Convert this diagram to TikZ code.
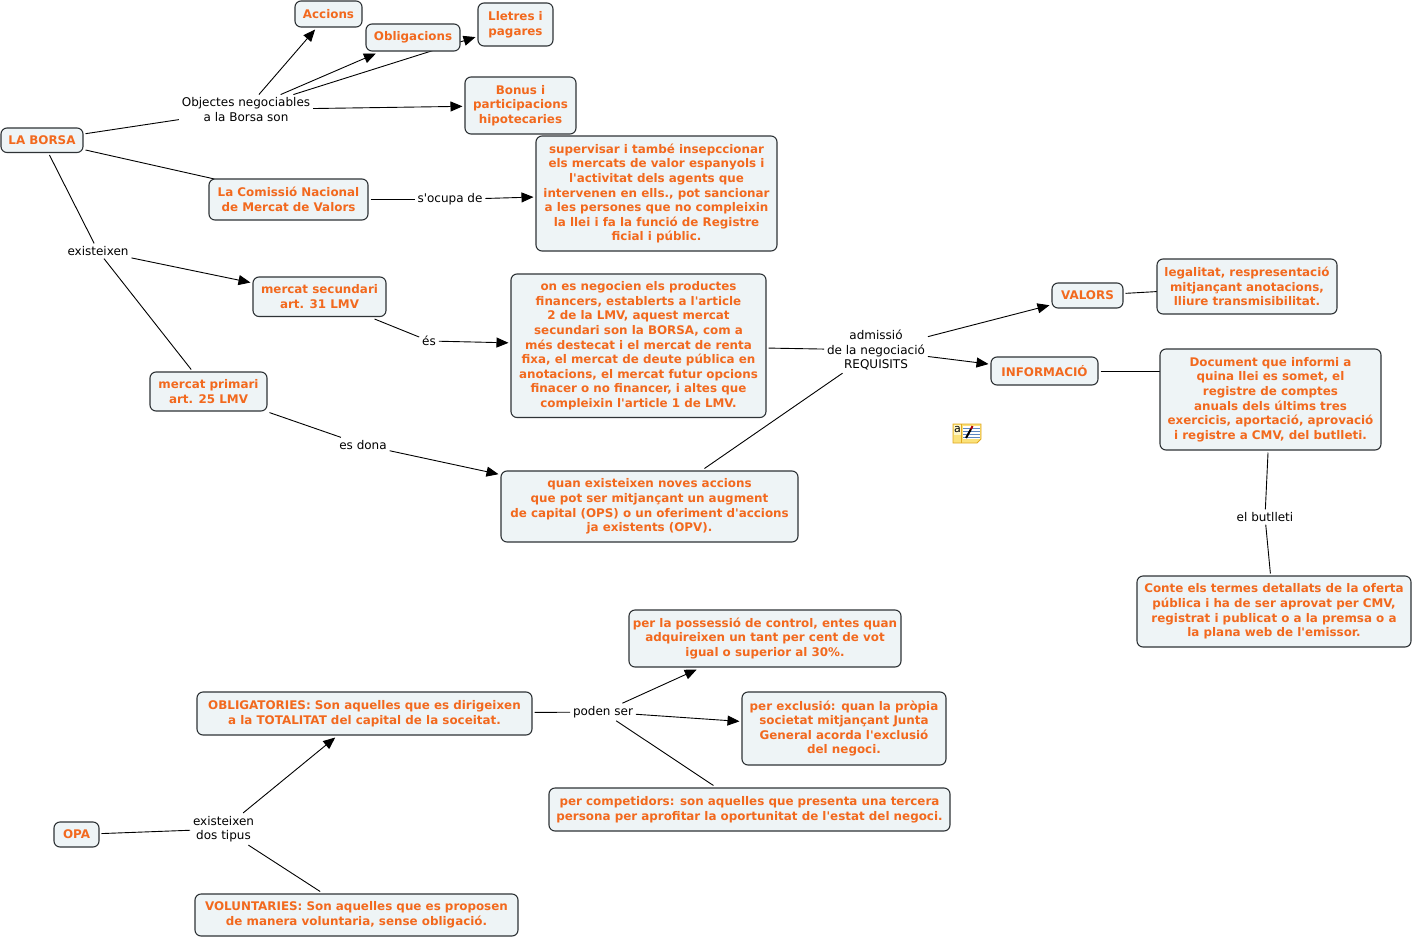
\documentclass[tikz,border=0pt]{standalone}
\usepackage{fontspec}
\setmainfont{DejaVu Sans}
\newfontfamily\dvfont{DejaVu Sans}
\usetikzlibrary{arrows.meta,backgrounds}
\definecolor{orangetxt}{HTML}{F2691E}
\definecolor{boxfill}{HTML}{EEF4F6}
\definecolor{boxline}{HTML}{2E3336}
\tikzset{
  concept/.style={draw=boxline,fill=boxfill,line width=1.1pt,rounded corners=6pt,inner sep=0pt,outer sep=2.5pt,align=center,text=orangetxt,font=\dvfont\fontsize{11.9}{14.6}\selectfont\bfseries},
  linkphrase/.style={inner sep=1.5pt,outer sep=1.5pt,align=center,text=black,font=\dvfont\fontsize{12}{14.6}\selectfont},
  plainline/.style={draw=black,line width=0.9pt},
  toborder/.style={shorten >=-2.5pt},
  arrowline/.style={draw=black,line width=0.9pt,-{Triangle[length=12pt,width=10pt]}}
}
\newcommand{\cpt}[6]{\node[concept,minimum width={#4-#2},minimum height={#5-#3}] (#1) at ({(#2+#4)/2},{(#3+#5)/2}) {#6};}
\begin{document}
\begin{tikzpicture}[x=1pt,y=-1pt]
\useasboundingbox (0,0) rectangle (1414,937);
\cpt{accions}{295}{1}{362}{27}{Accions}
\cpt{oblig}{366}{24}{460}{51}{Obligacions}
\cpt{lletres}{478}{3}{553}{46}{Lletres i\\pagares}
\cpt{bonus}{465}{77}{576}{134}{Bonus i\\participacions\\hipotecaries}
\cpt{borsa}{1}{128}{83}{152.5}{LA BORSA}
\cpt{cnmv}{209}{179}{368}{220}{La Comissió Nacional\\de Mercat de Valors}
\cpt{superv}{536}{136}{777}{251}{supervisar i també insepccionar\\els mercats de valor espanyols i\\l'activitat dels agents que\\intervenen en ells., pot sancionar\\a les persones que no compleixin\\la llei i fa la funció de Registre\\ficial i públic.}
\cpt{secund}{253}{277}{386}{316.5}{mercat secundari\\art. 31 LMV}
\cpt{onesn}{511}{274}{766}{417.5}{on es negocien els productes\\financers, establerts a l'article\\2 de la LMV, aquest mercat\\secundari son la BORSA, com a\\més destecat i el mercat de renta\\fixa, el mercat de deute pública en\\anotacions, el mercat futur opcions\\finacer o no financer, i altes que\\compleixin l'article 1 de LMV.}
\cpt{primari}{150}{372}{267}{411}{mercat primari\\art. 25 LMV}
\cpt{quan}{501}{471}{798}{542}{quan existeixen noves accions\\que pot ser mitjançant un augment\\de capital (OPS) o un oferiment d'accions\\ja existents (OPV).}
\cpt{valors}{1052}{283}{1123}{308}{VALORS}
\cpt{legal}{1157}{259}{1337}{314}{legalitat, respresentació\\mitjançant anotacions,\\lliure transmisibilitat.}
\cpt{info}{991}{357}{1098}{385}{INFORMACIÓ}
\cpt{docu}{1160}{349}{1381}{450}{Document que informi a\\quina llei es somet, el\\registre de comptes\\anuals dels últims tres\\exercicis, aportació, aprovació\\i registre a CMV, del butlleti.}
\cpt{conte}{1137}{576}{1411}{647}{Conte els termes detallats de la oferta\\pública i ha de ser aprovat per CMV,\\registrat i publicat o a la premsa o a\\la plana web de l'emissor.}
\cpt{posses}{629}{610}{901}{667}{per la possessió de control, entes quan\\adquireixen un tant per cent de vot\\igual o superior al 30\%.}
\cpt{obligat}{197}{692}{532}{735}{OBLIGATORIES: Son aquelles que es dirigeixen\\a la TOTALITAT del capital de la soceitat.}
\cpt{exclus}{742}{692}{946}{765}{per exclusió: quan la pròpia\\societat mitjançant Junta\\General acorda l'exclusió\\del negoci.}
\cpt{compet}{549}{788}{950}{831}{per competidors: son aquelles que presenta una tercera\\persona per aprofitar la oportunitat de l'estat del negoci.}
\cpt{opa}{54}{822}{99}{847}{OPA}
\cpt{volunt}{195}{894}{518}{936}{VOLUNTARIES: Son aquelles que es proposen\\de manera voluntaria, sense obligació.}
\node[linkphrase] (objectes) at (246,109.5) {Objectes negociables\\a la Borsa son};
\node[linkphrase] (socupa) at (450,199.5) {s'ocupa de};
\node[linkphrase] (exist) at (98,251) {existeixen};
\node[linkphrase] (es) at (429,341) {és};
\node[linkphrase] (esdona) at (363,445) {es dona};
\node[linkphrase] (admissio) at (876,350) {admissió\\de la negociació\\REQUISITS};
\node[linkphrase] (butlleti) at (1265,517) {el butlleti};
\node[linkphrase] (poden) at (603,712) {poden ser};
\node[linkphrase] (dostipus) at (223.5,829) {existeixen\\dos tipus};
\begin{scope}[on background layer]
\draw[plainline] (borsa) -- (objectes);
\draw[plainline] (borsa) -- ([xshift=8pt,yshift=-2.5pt]cnmv.north west);
\draw[plainline] (borsa) -- (exist);
\draw[arrowline] (objectes) -- (accions);
\draw[arrowline] (objectes) -- (oblig);
\draw[arrowline] (objectes) -- (lletres);
\draw[arrowline] (objectes) -- (bonus);
\draw[plainline] (cnmv) -- (socupa);
\draw[arrowline] (socupa) -- (superv);
\draw[arrowline] (exist) -- (secund);
\draw[plainline] (exist) -- (primari);
\draw[plainline] (secund) -- (es);
\draw[arrowline] (es) -- (onesn);
\draw[plainline] (primari) -- (esdona);
\draw[arrowline] (esdona) -- (quan);
\draw[plainline] (onesn) -- (admissio);
\draw[plainline] (quan) -- (admissio);
\draw[arrowline] (admissio) -- (valors);
\draw[arrowline] (admissio) -- (info);
\draw[plainline,toborder] (valors) -- (legal);
\draw[plainline,toborder] (info.east) -- (info.east -| docu.west);
\draw[plainline] (docu) -- (butlleti);
\draw[plainline] (butlleti) -- (conte);
\draw[plainline] (obligat) -- (poden);
\draw[arrowline] (poden) -- (posses);
\draw[arrowline] (poden) -- (exclus);
\draw[plainline] (poden) -- (compet);
\draw[plainline] (opa) -- (dostipus);
\draw[arrowline] (dostipus) -- (obligat);
\draw[plainline] (dostipus) -- (volunt);
\end{scope}
% note icon
\definecolor{noteyel}{HTML}{FBE27A}
\definecolor{noteedge}{HTML}{E0A820}
\definecolor{notepale}{HTML}{FDF6C8}
\definecolor{notelines}{HTML}{5C86C0}
\fill[fill=noteyel,draw=noteedge,line width=0.8pt] (953,424) -- (981,424) -- (981,439) -- (977,443) -- (953,443) -- cycle;
\fill[notepale] (954,425) rectangle (961,435);
\draw[noteedge,line width=0.6pt] (961.5,424) -- (961.5,443);
\fill[white] (963,426) rectangle (980,439);
\foreach \yy in {428,431,434,437} \draw[notelines,line width=0.7pt] (963,\yy) -- (980,\yy);
\draw[black,line width=2pt] (966,438) -- (971,429);
\draw[red!70!black,line width=2pt] (971,429) -- (972.5,426);
\node[inner sep=0pt,font=\dvfont\fontsize{11}{11}\selectfont] (icona) at (957.5,429.5) {a};
\end{tikzpicture}
\end{document}
